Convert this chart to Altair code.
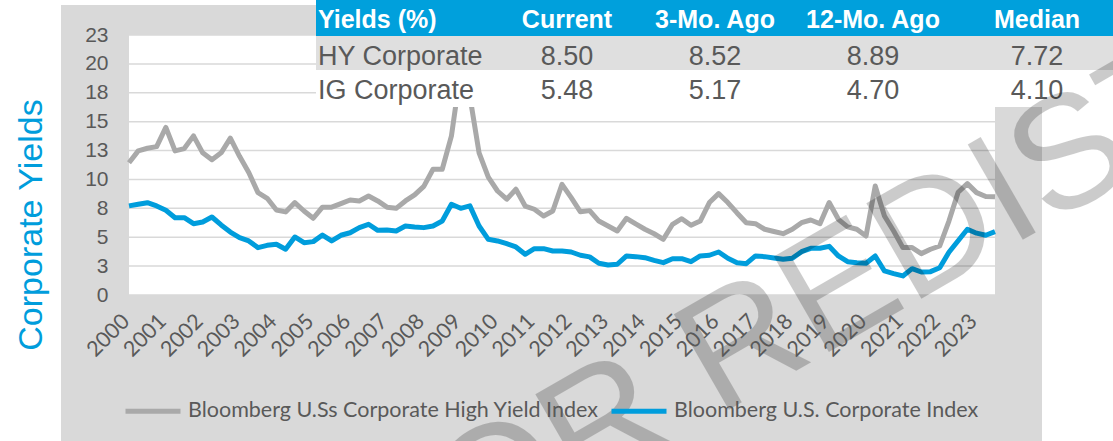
import altair as alt
import pandas as pd

# ---------------- data ----------------
hy_name = "Bloomberg U.Ss Corporate High Yield Index"
ig_name = "Bloomberg U.S. Corporate Index"

# quarter-end yields, Dec 1999 ... Jun 2023 (95 quarters)
hy_values = [
    11.45, 12.47, 12.7, 12.84, 14.5, 12.47, 12.67, 13.77, 12.3, 11.7,
    12.3, 13.57, 12.0, 10.6, 8.86, 8.37, 7.36, 7.19, 8.0, 7.27,
    6.64, 7.6, 7.6, 7.9, 8.22, 8.14, 8.57, 8.14, 7.6, 7.5,
    8.14, 8.66, 9.4, 10.88, 10.88, 13.77, 19.4, 17.2, 12.3, 10.2,
    9.0, 8.29, 9.15, 7.7, 7.42, 6.84, 7.27, 9.58, 8.42, 7.2,
    7.3, 6.4, 5.97, 5.54, 6.64, 6.15, 5.69, 5.3, 4.82, 6.12,
    6.6, 6.03, 6.4, 8.0, 8.77, 8.0, 7.1, 6.26, 6.17, 5.69,
    5.5, 5.31, 5.69, 6.26, 6.49, 6.17, 8.0, 6.55, 5.89, 5.69,
    5.1, 9.44, 6.84, 5.54, 4.1, 4.1, 3.58, 3.96, 4.24, 6.4,
    8.89, 9.64, 8.86, 8.52, 8.50,
]
ig_values = [
    7.71, 7.85, 7.99, 7.71, 7.33, 6.69, 6.69, 6.17, 6.32, 6.75,
    6.06, 5.45, 4.96, 4.68, 4.1, 4.3, 4.39, 3.96, 5.02, 4.53,
    4.62, 5.19, 4.68, 5.17, 5.39, 5.83, 6.12, 5.6, 5.63, 5.54,
    5.97, 5.89, 5.83, 5.97, 6.4, 7.85, 7.5, 7.71, 5.97, 4.82,
    4.68, 4.44, 4.16, 3.52, 4.01, 4.01, 3.81, 3.81, 3.72, 3.44,
    3.3, 2.75, 2.6, 2.66, 3.38, 3.32, 3.23, 3.0, 2.8, 3.14,
    3.14, 2.88, 3.38, 3.44, 3.72, 3.18, 2.8, 2.71, 3.38, 3.32,
    3.2, 3.09, 3.18, 3.75, 4.04, 4.04, 4.21, 3.38, 2.88, 2.8,
    2.75, 3.38, 2.08, 1.85, 1.65, 2.28, 1.99, 2.02, 2.36, 3.7,
    4.70, 5.69, 5.35, 5.17, 5.48,
]
quarter_dates = pd.date_range("1999-12-31", periods=len(hy_values), freq="QE")

year_ticks = list(range(2000, 2024))
y_ticks = [0, 2.5, 5, 7.5, 10, 12.5, 15, 17.5, 20, 22.5]

# table
table_header = ["Yields (%)", "Current", "3-Mo. Ago", "12-Mo. Ago", "Median"]
table_rows = ["HY Corporate", "IG Corporate"]
current = [8.50, 5.48]
three_mo_ago = [8.52, 5.17]
twelve_mo_ago = [8.89, 4.70]
median = [7.72, 4.10]

watermark = "NOT FOR REDISTRIBUTION"
y_title = "Corporate Yields"

# ---------------- styling ----------------
GRAY_LINE = "#A9A9A9"
BLUE = "#009DDC"
PANEL = "#D9D9D9"
TEXT = "#595959"
W, H = 866, 260

# quarter-end date -> decimal year (Dec 1999 -> 2000.0, Mar 2000 -> 2000.25, ...)
frac_year = [d.year + d.month / 12.0 for d in quarter_dates]

lines_df = pd.DataFrame({
    "t": frac_year * 2,
    "value": hy_values + ig_values,
    "series": [hy_name] * len(hy_values) + [ig_name] * len(ig_values),
})

one = pd.DataFrame({"a": [0]})
yscale = alt.Scale(domain=[0, 22.5], nice=False, zero=True)
xscale = alt.Scale(domain=[2000, 2023.5], nice=False, zero=False)

y_axis = alt.Axis(
    values=y_ticks, labelExpr="format(round(datum.value), 'd')",
    labelFont="Liberation Sans", labelFontSize=21, labelColor=TEXT,
    labelPadding=21, domain=False, ticks=False, tickSize=0, grid=False,
    title=None, labelOverlap=False, zindex=1)
x_axis = alt.Axis(
    values=year_ticks, format="d", labelAngle=315, labelAlign="right",
    labelBaseline="middle", labelFont="Lato", labelFontSize=21.5,
    labelColor=TEXT, labelPadding=23, labelOffset=-3, domain=False,
    ticks=False, tickSize=0, grid=False, title=None, labelOverlap=False,
    labelFlush=False, labelBound=False, zindex=1)

panel = alt.Chart(one).mark_rect(color=PANEL).encode(
    x=alt.value(-68), x2=alt.value(913), y=alt.value(-30), y2=alt.value(406)
)
plot_bg = alt.Chart(one).mark_rect(color="white").encode(
    x=alt.value(0), x2=alt.value(W), y=alt.value(0), y2=alt.value(H)
)
grid = alt.Chart(pd.DataFrame({"value": y_ticks})).mark_rule(
    color="#D9D9D9", strokeWidth=1.5
).encode(y=alt.Y("value:Q", scale=yscale, axis=y_axis), x=alt.value(0), x2=alt.value(W))

lines = alt.Chart(lines_df).mark_line(strokeWidth=5, strokeJoin="round").encode(
    x=alt.X("t:Q", scale=xscale, axis=x_axis),
    y=alt.Y("value:Q", scale=yscale, axis=y_axis),
    color=alt.Color("series:N", scale=alt.Scale(domain=[hy_name, ig_name],
                                                 range=[GRAY_LINE, BLUE]),
                    legend=alt.Legend(orient="none", legendX=-6, legendY=346,
                                      direction="horizontal", title=None,
                                      symbolType="stroke", symbolSize=3025,
                                      symbolStrokeWidth=5, labelFont="Lato",
                                      labelFontSize=21.5, labelColor=TEXT,
                                      labelLimit=1000, columnPadding=2,
                                      labelOffset=5, padding=0, zindex=1)),
)

# table (overlaid on the top right)
TX0, TX1 = 187, 984
header_bg = alt.Chart(one).mark_rect(color="#00A0DC").encode(
    x=alt.value(TX0), x2=alt.value(TX1), y=alt.value(-35), y2=alt.value(1))
row1_bg = alt.Chart(one).mark_rect(color="#DFDFDF").encode(
    x=alt.value(TX0), x2=alt.value(TX1), y=alt.value(1), y2=alt.value(35))
row2_bg = alt.Chart(one).mark_rect(color="white").encode(
    x=alt.value(TX0), x2=alt.value(TX1), y=alt.value(35), y2=alt.value(72))

col_x = [189, 438, 586, 744, 908]
row_y = [-7, 30, 64]
cells = []
for j, h in enumerate(table_header):
    cells.append(alt.Chart(one).mark_text(
        font="Liberation Sans", fontWeight="bold", fontSize=25, color="white",
        align="left" if j == 0 else "center", baseline="alphabetic"
    ).encode(x=alt.value(col_x[j]), y=alt.value(row_y[0]), text=alt.value(h)))
for r, name in enumerate(table_rows):
    vals = [name] + [f"{v:.2f}" for v in (current[r], three_mo_ago[r], twelve_mo_ago[r], median[r])]
    for j, s in enumerate(vals):
        cells.append(alt.Chart(one).mark_text(
            font="Liberation Sans", fontSize=27, color=TEXT,
            align="left" if j == 0 else "center", baseline="alphabetic"
        ).encode(x=alt.value(col_x[j]), y=alt.value(row_y[r + 1]), text=alt.value(s)))

title_txt = alt.Chart(one).mark_text(
    font="Liberation Sans", fontSize=34, color=BLUE, angle=270,
    align="center", baseline="alphabetic"
).encode(x=alt.value(-87), y=alt.value(190), text=alt.value(y_title))

wm = alt.Chart(one).mark_text(
    font="Liberation Sans", fontSize=160, color="black", opacity=0.2,
    angle=330, align="left", baseline="alphabetic"
).encode(x=alt.value(-71), y=alt.value(762), text=alt.value(watermark))

chart = alt.layer(
    panel, plot_bg, grid, lines, header_bg, row1_bg, row2_bg, *cells, title_txt, wm
).properties(
    width=W, height=H,
    padding={"left": 129, "top": 35, "right": 118, "bottom": 146},
    autosize=alt.AutoSizeParams(type="none"),
).configure_view(stroke=None).configure(background="white")

chart.save("out.html", embed_options={"renderer": "svg", "actions": False})
